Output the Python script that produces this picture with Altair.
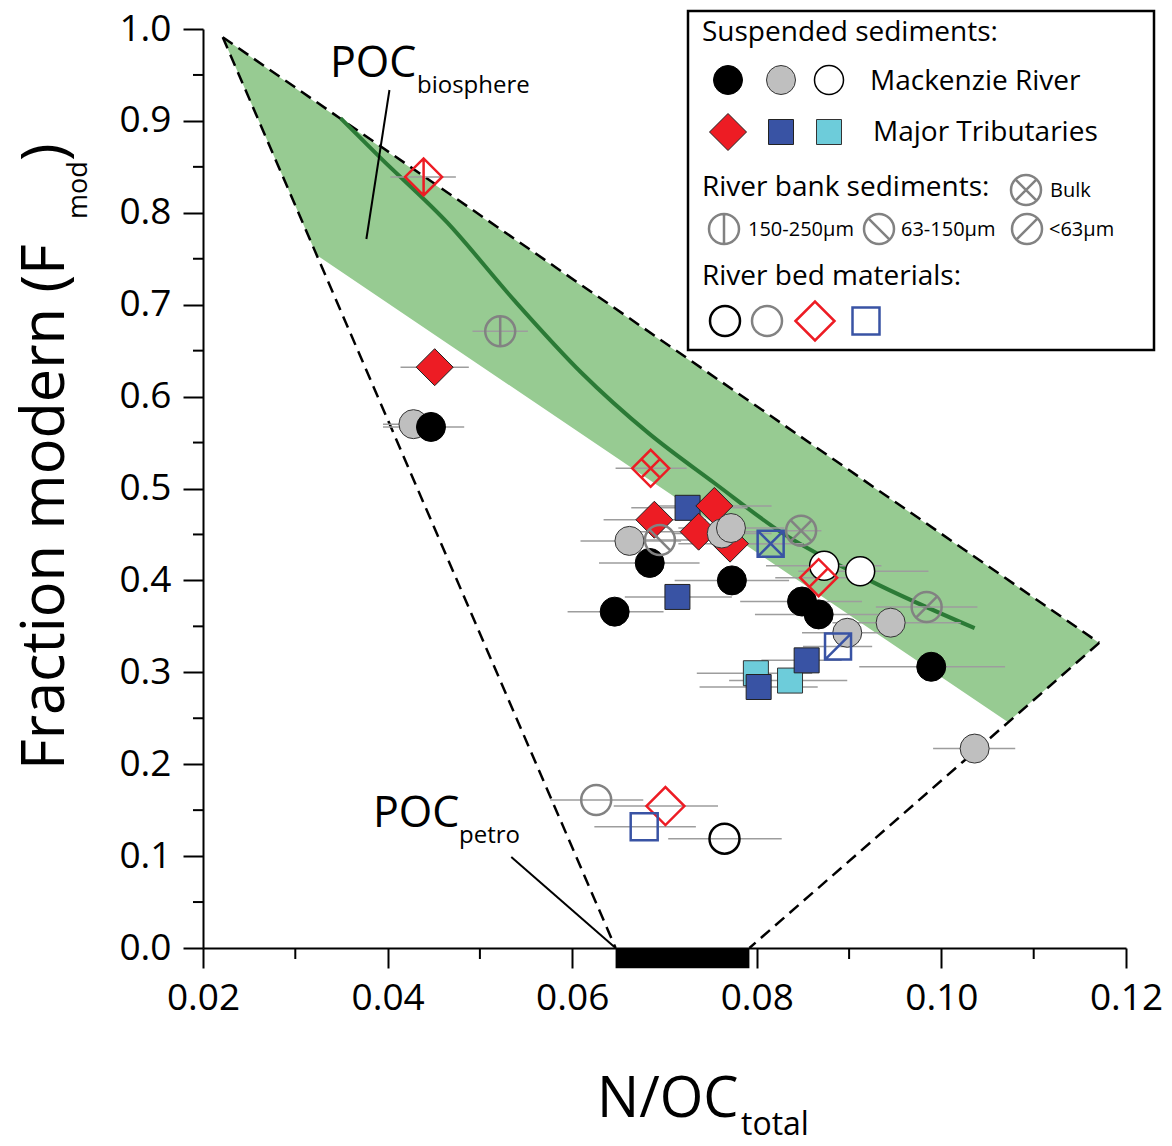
import altair as alt
import pandas as pd

FONT = "Open Sans"
W, H = 923, 919

# ---------------- data ----------------
# Mackenzie River suspended sediments
mr_black_x = [0.0447, 0.0684, 0.0773, 0.0646, 0.0849, 0.0867, 0.0989]
mr_black_y = [0.567, 0.419, 0.400, 0.366, 0.377, 0.363, 0.306]
mr_black_lo = [0.0395, 0.0629, 0.0711, 0.0595, 0.0782, 0.0798, 0.0911]
mr_black_hi = [0.0483, 0.0738, 0.0835, 0.0699, 0.0914, 0.0936, 0.1069]

mr_gray_x = [0.0428, 0.0662, 0.0762, 0.0772, 0.0898, 0.0945, 0.1036]
mr_gray_y = [0.570, 0.443, 0.451, 0.457, 0.343, 0.354, 0.217]
mr_gray_lo = [0.0395, 0.0609, 0.0708, 0.0715, 0.0849, 0.0882, 0.0991]
mr_gray_hi = [0.0463, 0.0718, 0.0816, 0.0830, 0.0941, 0.1021, 0.1080]

mr_white_x = [0.0873, 0.0912]
mr_white_y = [0.416, 0.410]
mr_white_lo = [0.0810, 0.0845]
mr_white_hi = [0.0935, 0.0986]

# Major tributaries suspended sediments
tr_red_x = [0.0451, 0.0689, 0.0754, 0.0737, 0.0771]
tr_red_y = [0.632, 0.466, 0.481, 0.453, 0.440]
tr_red_lo = [0.0414, 0.0634, 0.0686, 0.0670, 0.0715]
tr_red_hi = [0.0488, 0.0745, 0.0816, 0.0800, 0.0830]

tr_blue_x = [0.0725, 0.0714, 0.0854, 0.0802]
tr_blue_y = [0.479, 0.382, 0.313, 0.284]
tr_blue_lo = [0.0664, 0.0657, 0.0805, 0.0738]
tr_blue_hi = [0.0790, 0.0773, 0.0892, 0.0866]

tr_cyan_x = [0.0799, 0.0836]
tr_cyan_y = [0.299, 0.291]
tr_cyan_lo = [0.0735, 0.0770]
tr_cyan_hi = [0.0860, 0.0898]

# River bank sediments (kind: v=150-250um, bs=63-150um, x=bulk, s=<63um)
bank_gray_x = [0.0522, 0.0695, 0.0848, 0.0984]
bank_gray_y = [0.671, 0.444, 0.454, 0.371]
bank_gray_kind = ["v", "bs", "x", "s"]
bank_gray_lo = [0.0492, 0.0650, 0.0815, 0.0929]
bank_gray_hi = [0.0552, 0.0735, 0.0870, 0.1039]

bank_red_x = [0.0439, 0.0685, 0.0867]
bank_red_y = [0.839, 0.522, 0.403]
bank_red_kind = ["v", "x", "s"]
bank_red_lo = [0.0403, 0.0647, 0.0820]
bank_red_hi = [0.0474, 0.0724, 0.0910]

bank_blue_x = [0.0815, 0.0888]
bank_blue_y = [0.440, 0.328]
bank_blue_kind = ["x", "s"]
bank_blue_lo = [0.0780, 0.0850]
bank_blue_hi = [0.0850, 0.0925]

# River bed materials
bed_kind = ["gray", "red", "blue", "black"]
bed_x = [0.0626, 0.0701, 0.0678, 0.0765]
bed_y = [0.161, 0.1545, 0.132, 0.119]
bed_lo = [0.0576, 0.0645, 0.0624, 0.0704]
bed_hi = [0.0677, 0.0758, 0.0734, 0.0827]

# mixing envelope
env_x = [0.02214, 0.0323, 0.1072, 0.1171]
env_top = [0.991, 0.9195, 0.4004, 0.332]
env_bot = [0.991, 0.754, 0.246, 0.332]
apex = (0.02214, 0.991)
petro_lo, petro_hi = 0.0647, 0.0792
right_vertex = (0.1171, 0.332)

# biosphere trend curve
curve_x = [0.0349, 0.0392, 0.0465, 0.0537, 0.0610, 0.0683, 0.0754, 0.0827, 0.0922, 0.1036]
curve_y = [0.903, 0.860, 0.789, 0.705, 0.626, 0.560, 0.506, 0.452, 0.400, 0.348]

x_ticks = [0.02, 0.04, 0.06, 0.08, 0.10, 0.12]
x_minor = [0.03, 0.05, 0.07, 0.09, 0.11]
y_ticks = [0.0, 0.1, 0.2, 0.3, 0.4, 0.5, 0.6, 0.7, 0.8, 0.9, 1.0]
y_minor = [0.05, 0.15, 0.25, 0.35, 0.45, 0.55, 0.65, 0.75, 0.85, 0.95]

# ---------------- styles ----------------
RED = "#ed1c24"
BLUE = "#3953a4"
CYAN = "#6dccda"
GRAYF = "#bfbfbf"
GRAYS = "#828282"
ERR = "#9d9d9d"

CIRC = "M1,0A1,1,0,1,1,-1,0A1,1,0,1,1,1,0Z"
DIAM = "M-1,0L0,-1L1,0L0,1Z"
SQR = "M-1,-1L1,-1L1,1L-1,1Z"
circ_marks = {"v": "M0,-1L0,1", "bs": "M-0.707,-0.707L0.707,0.707",
              "x": "M-0.707,-0.707L0.707,0.707M-0.707,0.707L0.707,-0.707",
              "s": "M-0.707,0.707L0.707,-0.707"}
diam_marks = {"v": "M0,-1L0,1", "x": "M-0.5,-0.5L0.5,0.5M0.5,-0.5L-0.5,0.5",
              "s": "M-0.5,0.5L0.5,-0.5"}
sq_marks = {"x": "M-1,-1L1,1M1,-1L-1,1", "s": "M-1,1L1,-1"}

rows = []
err_rows = []


def add(xs_, ys_, lo, hi, shape, fill, stroke, size, sw):
    for i in range(len(xs_)):
        sh = shape(i) if callable(shape) else shape
        rows.append(dict(x=xs_[i], y=ys_[i], shape=sh, fill=fill, stroke=stroke, size=size, sw=sw))
        err_rows.append(dict(y=ys_[i], lo=lo[i], hi=hi[i]))


add(tr_cyan_x, tr_cyan_y, tr_cyan_lo, tr_cyan_hi, "square", CYAN, "#333333", 625, 1)
add(tr_blue_x, tr_blue_y, tr_blue_lo, tr_blue_hi, "square", BLUE, "#222222", 625, 1)
add(tr_red_x, tr_red_y, tr_red_lo, tr_red_hi, "diamond", RED, "#222222", 1369, 1)
add(mr_gray_x, mr_gray_y, mr_gray_lo, mr_gray_hi, "circle", GRAYF, "#333333", 841, 1)
add(mr_black_x, mr_black_y, mr_black_lo, mr_black_hi, "circle", "#000000", "#000000", 841, 1)
add(mr_white_x, mr_white_y, mr_white_lo, mr_white_hi, "circle", "#ffffff", "#000000", 841, 1.5)
add(bank_gray_x, bank_gray_y, bank_gray_lo, bank_gray_hi,
    lambda i: CIRC + circ_marks[bank_gray_kind[i]], "transparent", GRAYS, 900, 2.5)
add(bank_red_x, bank_red_y, bank_red_lo, bank_red_hi,
    lambda i: DIAM + diam_marks[bank_red_kind[i]], "transparent", RED, 1369, 2.5)
add(bank_blue_x, bank_blue_y, bank_blue_lo, bank_blue_hi,
    lambda i: SQR + sq_marks[bank_blue_kind[i]], "transparent", BLUE, 676, 2.5)
bed_style = {"gray": (CIRC, GRAYS, 900), "red": (DIAM, RED, 1444), "blue": (SQR, BLUE, 729),
             "black": (CIRC, "#000000", 900)}
for k, xv, yv, l, h in zip(bed_kind, bed_x, bed_y, bed_lo, bed_hi):
    sh, col, sz = bed_style[k]
    add([xv], [yv], [l], [h], sh, "transparent", col, sz, 2.5)

pts = pd.DataFrame(rows)
errs = pd.DataFrame(err_rows)

xs = alt.Scale(domain=[0.02, 0.12], nice=False, zero=False)
ys = alt.Scale(domain=[0.0, 1.0], nice=False, zero=False)

axis_common = dict(title=None, grid=False, domainColor="black", domainWidth=2,
                   tickColor="black", tickWidth=2, tickSize=20, labelFont=FONT,
                   labelFontSize=37, labelColor="black")
x_axis = alt.Axis(values=x_ticks, format=".2f", labelPadding=12, labelFlush=False, **axis_common)
y_axis = alt.Axis(values=y_ticks, format=".1f", labelPadding=12, **axis_common)

env = pd.DataFrame({"x": env_x, "y": env_top, "y2": env_bot})
area = alt.Chart(env).mark_area(color="#97cb92", opacity=1).encode(
    x=alt.X("x:Q", scale=xs, axis=x_axis),
    y=alt.Y("y:Q", scale=ys, axis=y_axis),
    y2="y2:Q",
)

segs = pd.DataFrame({
    "x": [apex[0], apex[0], right_vertex[0]],
    "y": [apex[1], apex[1], right_vertex[1]],
    "x2": [petro_lo, right_vertex[0], petro_hi],
    "y2": [0.0, right_vertex[1], 0.0],
})
dashed = alt.Chart(segs).mark_rule(color="black", strokeWidth=2.5, strokeDash=[12, 7]).encode(
    x=alt.X("x:Q", scale=xs), y=alt.Y("y:Q", scale=ys), x2="x2:Q", y2="y2:Q")

curve = alt.Chart(pd.DataFrame({"x": curve_x, "y": curve_y})).mark_line(
    color="#2b7a36", strokeWidth=4, interpolate="monotone").encode(
    x=alt.X("x:Q", scale=xs), y=alt.Y("y:Q", scale=ys))

petro = alt.Chart(pd.DataFrame({"x": [petro_lo], "x2": [petro_hi], "y": [0.0], "y2": [-0.022]})).mark_rect(
    color="black").encode(x=alt.X("x:Q", scale=xs), x2="x2:Q", y=alt.Y("y:Q", scale=ys), y2="y2:Q")

leaders = pd.DataFrame({"x": [0.0402, 0.0534], "y": [0.9336, 0.099],
                        "x2": [0.0377, petro_lo], "y2": [0.7715, 0.0]})
leader = alt.Chart(leaders).mark_rule(color="black", strokeWidth=2).encode(
    x=alt.X("x:Q", scale=xs), y=alt.Y("y:Q", scale=ys), x2="x2:Q", y2="y2:Q")

xminor = alt.Chart(pd.DataFrame({"x": x_minor})).mark_rule(color="black", strokeWidth=2).encode(
    x=alt.X("x:Q", scale=xs), y=alt.value(H), y2=alt.value(H + 11))
yminor = alt.Chart(pd.DataFrame({"y": y_minor})).mark_rule(color="black", strokeWidth=2).encode(
    y=alt.Y("y:Q", scale=ys), x=alt.value(-10), x2=alt.value(0))

errbars = alt.Chart(errs).mark_rule(color=ERR, strokeWidth=1.5).encode(
    x=alt.X("lo:Q", scale=xs), x2="hi:Q", y=alt.Y("y:Q", scale=ys))

points = alt.Chart(pts).mark_point(opacity=1).encode(
    x=alt.X("x:Q", scale=xs), y=alt.Y("y:Q", scale=ys),
    shape=alt.Shape("shape:N", scale=None),
    fill=alt.Fill("fill:N", scale=None),
    stroke=alt.Stroke("stroke:N", scale=None),
    size=alt.Size("size:Q", scale=None),
    strokeWidth=alt.StrokeWidth("sw:Q", scale=None),
)

# ---------------- legend (pixel positions relative to plot area) ----------------
box = alt.Chart(pd.DataFrame({"a": [0]})).mark_rect(fill="white", stroke="black", strokeWidth=2.5).encode(
    x=alt.value(485), x2=alt.value(951), y=alt.value(-18), y2=alt.value(321))

leg_sym = pd.DataFrame([
    dict(px=525, py=51, shape="circle", fill="#000000", stroke="#000000", size=841, sw=1),
    dict(px=578, py=51, shape="circle", fill=GRAYF, stroke="#333333", size=841, sw=1),
    dict(px=626, py=51, shape="circle", fill="#ffffff", stroke="#000000", size=841, sw=1.5),
    dict(px=525, py=103, shape="diamond", fill=RED, stroke="#222222", size=1369, sw=1),
    dict(px=578, py=103, shape="square", fill=BLUE, stroke="#222222", size=625, sw=1),
    dict(px=626, py=103, shape="square", fill=CYAN, stroke="#333333", size=625, sw=1),
    dict(px=823, py=161, shape=CIRC + circ_marks["x"], fill="transparent", stroke=GRAYS, size=900, sw=2.5),
    dict(px=521, py=200, shape=CIRC + circ_marks["v"], fill="transparent", stroke=GRAYS, size=900, sw=2.5),
    dict(px=676, py=200, shape=CIRC + circ_marks["bs"], fill="transparent", stroke=GRAYS, size=900, sw=2.5),
    dict(px=824, py=200, shape=CIRC + circ_marks["s"], fill="transparent", stroke=GRAYS, size=900, sw=2.5),
    dict(px=522, py=292, shape=CIRC, fill="transparent", stroke="#000000", size=900, sw=2.5),
    dict(px=564, py=292, shape=CIRC, fill="transparent", stroke=GRAYS, size=900, sw=2.5),
    dict(px=612, py=292, shape=DIAM, fill="transparent", stroke=RED, size=1521, sw=2.5),
    dict(px=663, py=292, shape=SQR, fill="transparent", stroke=BLUE, size=729, sw=2.5),
])
legend_pts = alt.Chart(leg_sym).mark_point(opacity=1).encode(
    x=alt.X("px:Q", scale=None), y=alt.Y("py:Q", scale=None),
    shape=alt.Shape("shape:N", scale=None),
    fill=alt.Fill("fill:N", scale=None),
    stroke=alt.Stroke("stroke:N", scale=None),
    size=alt.Size("size:Q", scale=None),
    strokeWidth=alt.StrokeWidth("sw:Q", scale=None),
)

texts = pd.DataFrame([
    dict(px=499, py=12, t="Suspended sediments:", fs=28, ang=0),
    dict(px=667, py=61, t="Mackenzie River", fs=28, ang=0),
    dict(px=670, py=112, t="Major Tributaries", fs=28, ang=0),
    dict(px=499, py=167, t="River bank sediments:", fs=28, ang=0),
    dict(px=847, py=168, t="Bulk", fs=20, ang=0),
    dict(px=545, py=207, t="150-250µm", fs=20, ang=0),
    dict(px=698, py=207, t="63-150µm", fs=20, ang=0),
    dict(px=846, py=207, t="<63µm", fs=20, ang=0),
    dict(px=499, py=256, t="River bed materials:", fs=28, ang=0),
    dict(px=127, py=48, t="POC", fs=43, ang=0),
    dict(px=214, py=64, t="biosphere", fs=24, ang=0),
    dict(px=170, py=798, t="POC", fs=43, ang=0),
    dict(px=256, py=814, t="petro", fs=24, ang=0),
    dict(px=394, py=1088, t="N/OC", fs=56, ang=0),
    dict(px=538, py=1106, t="total", fs=32, ang=0),
    dict(px=-139, py=741, t="Fraction modern (F", fs=59.5, ang=270),
    dict(px=-116, py=190, t="mod", fs=27, ang=270),
    dict(px=-139, py=132, t=")", fs=59.5, ang=270),
])
text_layer = alt.Chart(texts).mark_text(align="left", baseline="alphabetic", font=FONT, color="black").encode(
    x=alt.X("px:Q", scale=None), y=alt.Y("py:Q", scale=None),
    text="t:N",
    size=alt.Size("fs:Q", scale=None),
    angle=alt.Angle("ang:Q", scale=None),
)

chart = alt.layer(
    area, dashed, curve, petro, leader, xminor, yminor, errbars, points,
    box, legend_pts, text_layer,
).properties(
    width=W, height=H,
    autosize=alt.AutoSizeParams(type="none"),
    padding={"left": 195, "top": 21, "right": 38, "bottom": 190},
).configure_view(stroke=None).configure_axis(grid=False)

chart.save("out.html", embed_options={"renderer": "svg", "actions": False})
